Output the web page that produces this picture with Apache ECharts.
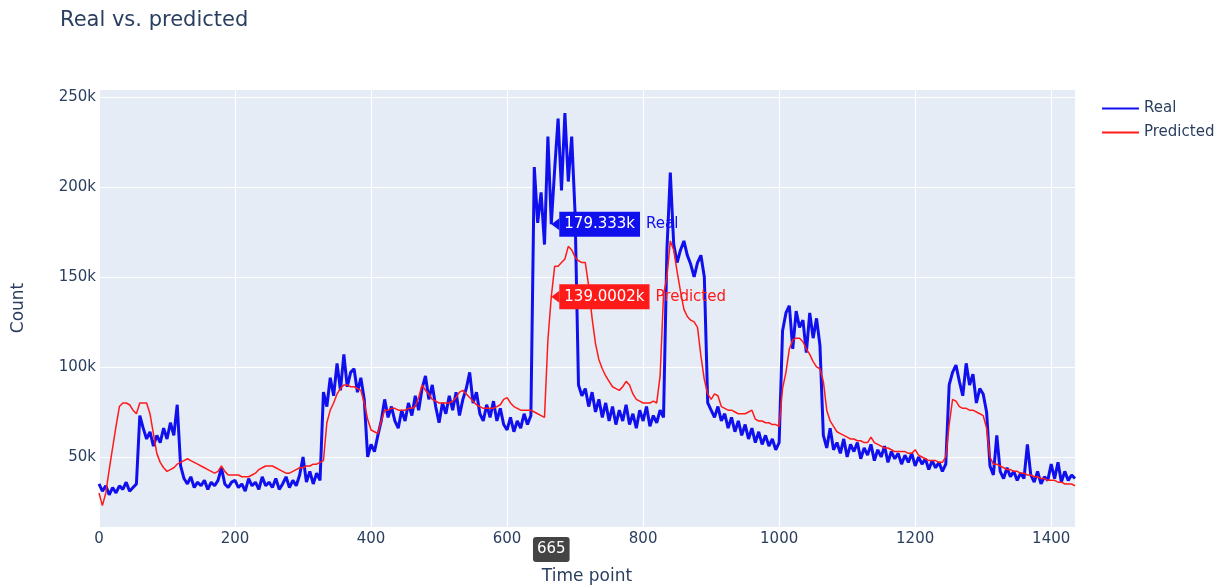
<!DOCTYPE html>
<html>
<head>
<meta charset="utf-8">
<title>Real vs. predicted</title>
<script src="https://cdn.jsdelivr.net/npm/echarts@6/dist/echarts.min.js"></script>
<style>
html,body{margin:0;padding:0;background:#fff;}
#chart{width:1231px;height:586px;}
</style>
</head>
<body>
<div id="chart"></div>
<script>
// one value every 5 time points, in thousands
var STEP = 5;
var realK = [
	35,31,34,29,33,30,34,32,36,31,33,35,73,66,60,64,56,62,58,66,      //0
	60,69,62,79,45,38,35,39,33,36,34,37,32,36,34,37,44,35,33,36,      //100
	37,33,35,31,38,34,36,32,39,34,36,33,38,32,35,39,33,37,34,40,      //200
	50,36,42,35,41,37,86,78,94,84,102,87,107,89,97,99,86,94,82,50,    //300
	57,53,62,70,82,72,78,70,66,76,70,80,73,84,76,88,95,82,90,78,      //400
	69,80,74,84,76,86,73,82,88,97,80,86,74,70,79,72,81,70,77,68,      //500
	65,72,64,70,66,74,68,73,211,180,197,168,228,179.333,210,238,198,241,203,228, //600
	185,90,84,88,78,86,75,82,72,80,70,78,68,76,70,79,68,74,66,76,     //700
	70,78,67,73,69,76,72,165,208,168,158,165,170,162,157,150,158,162,150,80, //800
	76,72,78,70,74,66,72,64,70,62,68,60,66,58,64,57,62,56,60,54,      //900
	58,120,130,134,110,131,122,126,108,130,116,127,112,62,55,66,54,58,52,60, //1000
	50,57,53,58,49,55,51,57,48,54,50,56,47,53,49,52,46,51,47,52,      //1100
	45,50,46,49,43,48,44,47,42,46,90,97,101,92,84,102,90,96,80,88,    //1200
	85,75,45,40,62,42,38,44,39,42,37,41,38,57,40,36,42,35,39,37,      //1300
	46,38,47,36,42,37,40,38                                           //1400
];
var predictedK = [
	30,23,30,43,55,67,78,80,80,79,76,74,80,80,80,74,63,52,47,44,      //0
	42,43,44,46,47,48,49,48,47,46,45,44,43,42,41,42,45,42,40,40,      //100
	40,40,39,39,39,40,41,43,44,45,45,45,44,43,42,41,41,42,43,44,      //200
	44,45,45,46,46,47,48,69,76,80,85,88,90,90,89,89,88,87,80,71,      //300
	65,64,63,70,76,76,77,77,76,76,76,77,77,78,83,90,87,85,82,81,      //400
	80,80,80,80,81,83,86,87,85,83,81,79,78,77,77,77,77,78,79,82,      //500
	83,80,78,77,76,76,76,76,75,74,73,72,115,139.0002,156,156,158,160,167,165, //600
	161,159,158,158,145,127,113,104,99,95,92,89,88,87,89,92,90,85,82,81, //700
	80,80,80,81,80,95,140,150,170,165,153,142,132,128,126,125,122,106,93,85, //800
	82,85,84,78,77,76,76,75,74,74,74,75,76,71,70,70,69,69,68,68,      //900
	67,88,97,110,115,116,116,114,110,107,103,100,99,92,76,70,67,64,63,62, //1000
	61,60,60,59,59,58,58,61,58,57,56,55,55,54,53,53,53,53,52,52,      //1100
	54,51,50,49,48,48,48,47,47,50,68,82,81,78,77,77,76,76,75,74,      //1200
	73,66,50,46,46,45,44,43,43,42,42,41,41,40,40,39,39,38,38,37,      //1300
	37,37,36,36,35,35,35,34                                           //1400
];
var seriesNames = ['Real', 'Predicted'];
var hoverT = 665;

var BLUE = '#1010ee';
var RED = '#ff1a1a';
var INK = '#2a3f5f';
var FONT = 'DejaVu Sans';

var toPairs = function(arr){
	var out = [];
	for(var i=0;i<arr.length;i++){
		out.push([i*STEP, arr[i]]);
	}
	return out;
};
var hoverIdx = hoverT / STEP;

// hover box like the plotly one: arrow + coloured box + trace name
var hoverMark = function(color, value, name){
	return {
		silent: true,
		symbol: 'path://M0,6L8,0L8,12Z',
		symbolSize: [8, 12],
		symbolOffset: [4, 0],
		itemStyle: {color: color},
		label: {
			show: true,
			position: 'right',
			distance: 0,
			formatter: '{b|' + value + 'k}{n|' + name + '}',
			rich: {
				b: {backgroundColor: color, color: '#fff', fontSize: 15, fontFamily: FONT, padding: [5, 5, 5, 5], lineHeight: 17},
				n: {color: color, fontSize: 15, fontFamily: FONT, padding: [0, 0, 0, 6]}
			}
		},
		data: [{coord: [hoverT, value]}]
	};
};

var dom = document.getElementById('chart');
var myChart = echarts.init(dom);
var option = {
	animation: false,
	backgroundColor: '#fff',
	textStyle: {fontFamily: FONT},
	title: {
		text: 'Real vs. predicted',
		left: 55,
		top: 5,
		textStyle: {color: INK, fontSize: 21, fontWeight: 'normal', fontFamily: FONT}
	},
	legend: {
		data: seriesNames,
		orient: 'vertical',
		left: 1096,
		top: 96,
		itemWidth: 37,
		itemHeight: 14,
		itemGap: 9,
		itemStyle: {opacity: 0},
		textStyle: {color: INK, fontSize: 15, fontFamily: FONT}
	},
	grid: {
		left: 99,
		right: 156,
		top: 89,
		bottom: 59,
		show: true,
		backgroundColor: '#e5ecf6',
		borderWidth: 0,
		containLabel: false,
		outerBoundsMode: 'none'
	},
	xAxis: {
		type: 'value',
		min: 0,
		max: 1435,
		interval: 200,
		name: 'Time point',
		nameLocation: 'middle',
		nameGap: 41,
		nameTextStyle: {color: INK, fontSize: 17, fontFamily: FONT},
		axisLine: {show: false},
		axisTick: {show: false},
		splitLine: {show: true, lineStyle: {color: '#fff', width: 1}},
		axisLabel: {
			color: INK, fontSize: 15, fontFamily: FONT, margin: 5,
			formatter: function(v){ return v % 200 === 0 ? String(v) : ''; }
		},
		axisPointer: {
			show: true,
			value: hoverT,
			status: 'show',
			type: 'line',
			snap: false,
			triggerTooltip: false,
			lineStyle: {opacity: 0},
			label: {
				show: true,
				backgroundColor: '#444',
				color: '#fff',
				fontSize: 15,
				fontFamily: FONT,
				padding: [5, 4, 5, 4],
				margin: 10,
				formatter: function(p){ return String(Math.round(p.value)); }
			},
			handle: {show: false}
		}
	},
	yAxis: {
		type: 'value',
		min: 11.1,
		max: 254.4,
		name: 'Count',
		nameLocation: 'middle',
		nameGap: 72,
		nameTextStyle: {color: INK, fontSize: 17, fontFamily: FONT},
		axisLine: {show: false},
		axisTick: {show: false},
		splitLine: {show: true, lineStyle: {color: '#fff', width: 1}},
		axisLabel: {
			color: INK, fontSize: 15, fontFamily: FONT, margin: 3,
			formatter: function(v){ return v % 50 === 0 ? v + 'k' : ''; }
		}
	},
	series: [
		{
			name: seriesNames[0],
			type: 'line',
			symbol: 'none',
			showSymbol: false,
			lineStyle: {color: BLUE, width: 3},
			itemStyle: {color: BLUE},
			z: 2,
			data: toPairs(realK),
			markPoint: hoverMark(BLUE, realK[hoverIdx], seriesNames[0])
		},
		{
			name: seriesNames[1],
			type: 'line',
			symbol: 'none',
			showSymbol: false,
			lineStyle: {color: RED, width: 1.5},
			itemStyle: {color: RED},
			z: 3,
			data: toPairs(predictedK),
			markPoint: hoverMark(RED, predictedK[hoverIdx], seriesNames[1])
		}
	]
};
if(option && typeof option === 'object'){
	myChart.setOption(option, true);
}
</script>
</body>
</html>
